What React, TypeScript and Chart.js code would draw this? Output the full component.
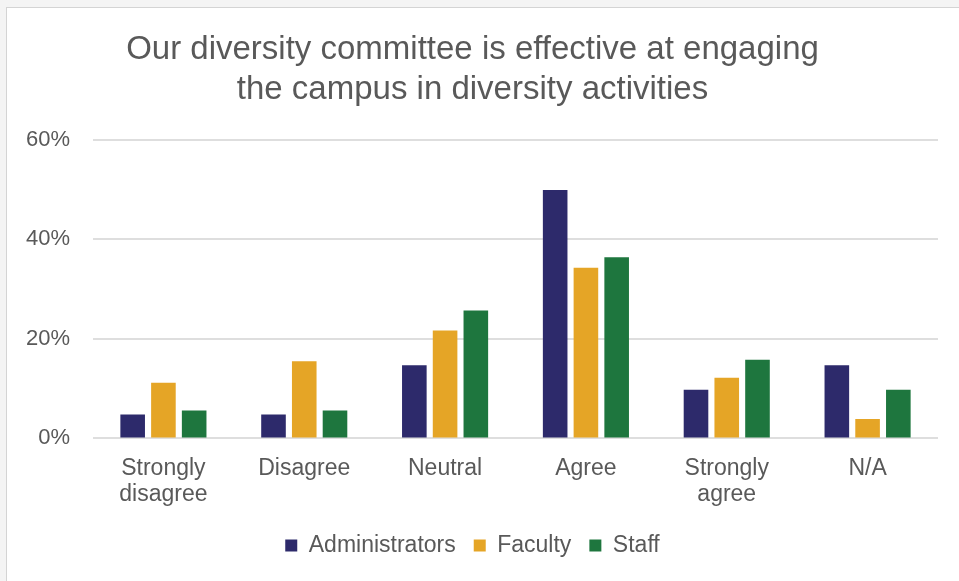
import React, { useEffect, useRef } from "react";
import { Chart, registerables } from "chart.js";

Chart.register(...registerables);

const titleLines = [
  "Our diversity committee is effective at engaging",
  "the campus in diversity activities",
];
const categories: (string | string[])[] = [
  ["Strongly", "disagree"],
  "Disagree",
  "Neutral",
  "Agree",
  ["Strongly", "agree"],
  "N/A",
];
const administrators = [4.8, 4.8, 14.7, 49.9, 9.8, 14.7];
const faculty = [11.2, 15.5, 21.7, 34.3, 12.2, 3.9];
const staff = [5.6, 5.6, 25.7, 36.4, 15.8, 9.8];
const yTicks = [0, 20, 40, 60];

const COLORS = { admin: "#2d2a6b", faculty: "#e5a526", staff: "#1e763e" };
const TEXT = "#595959";
const FONT = "'Liberation Sans', Arial, sans-serif";

export default function App() {
  const ref = useRef<HTMLCanvasElement | null>(null);

  useEffect(() => {
    if (!ref.current) return;
    const chart = new Chart(ref.current, {
      type: "bar",
      data: {
        labels: categories,
        datasets: [
          { label: "Administrators", data: administrators, backgroundColor: COLORS.admin },
          { label: "Faculty", data: faculty, backgroundColor: COLORS.faculty },
          { label: "Staff", data: staff, backgroundColor: COLORS.staff },
        ].map((d) => ({ ...d, categoryPercentage: 0.655, barPercentage: 0.8, borderWidth: 0 })),
      },
      options: {
        animation: false,
        responsive: false,
        maintainAspectRatio: false,
        layout: { padding: { left: 0, right: 21, top: 0, bottom: 14 } },
        plugins: {
          title: {
            display: true,
            text: titleLines,
            color: TEXT,
            font: { family: FONT, size: 33, weight: "normal", lineHeight: 1.21 },
            padding: { top: 22, bottom: 30 },
          },
          legend: {
            position: "bottom",
            labels: {
              color: TEXT,
              font: { family: FONT, size: 23 },
              boxWidth: 12,
              boxHeight: 12,
              padding: 18,
            },
          },
          tooltip: { enabled: false },
        },
        scales: {
          x: {
            afterFit: (scale: any) => {
              scale.height -= 1;
            },
            grid: { display: false },
            border: { display: false },
            ticks: {
              color: TEXT,
              font: { family: FONT, size: 23, lineHeight: 1.1 },
              padding: 10,
              maxRotation: 0,
              autoSkip: false,
            },
          },
          y: {
            min: 0,
            max: 60,
            afterFit: (scale: any) => {
              scale.width = 86;
            },
            afterBuildTicks: (scale: any) => {
              scale.ticks = yTicks.map((v) => ({ value: v }));
            },
            grid: { color: "#dedede", lineWidth: 2, drawTicks: false },
            border: { display: false },
            ticks: {
              color: TEXT,
              font: { family: FONT, size: 22 },
              padding: 23,
              callback: (v: any) => `${v}%`,
            },
          },
        },
      },
    });
    return () => chart.destroy();
  }, []);

  return (
    <div style={{ position: "fixed", inset: 0, background: "#f4f4f4" }}>
      <div
        style={{
          position: "absolute",
          left: 6,
          top: 7,
          right: 0,
          bottom: 0,
          background: "#ffffff",
          borderLeft: "1px solid #d4d4d4",
          borderTop: "1px solid #d4d4d4",
        }}
      >
        <canvas ref={ref} width={952} height={573} style={{ display: "block" }} />
      </div>
    </div>
  );
}
